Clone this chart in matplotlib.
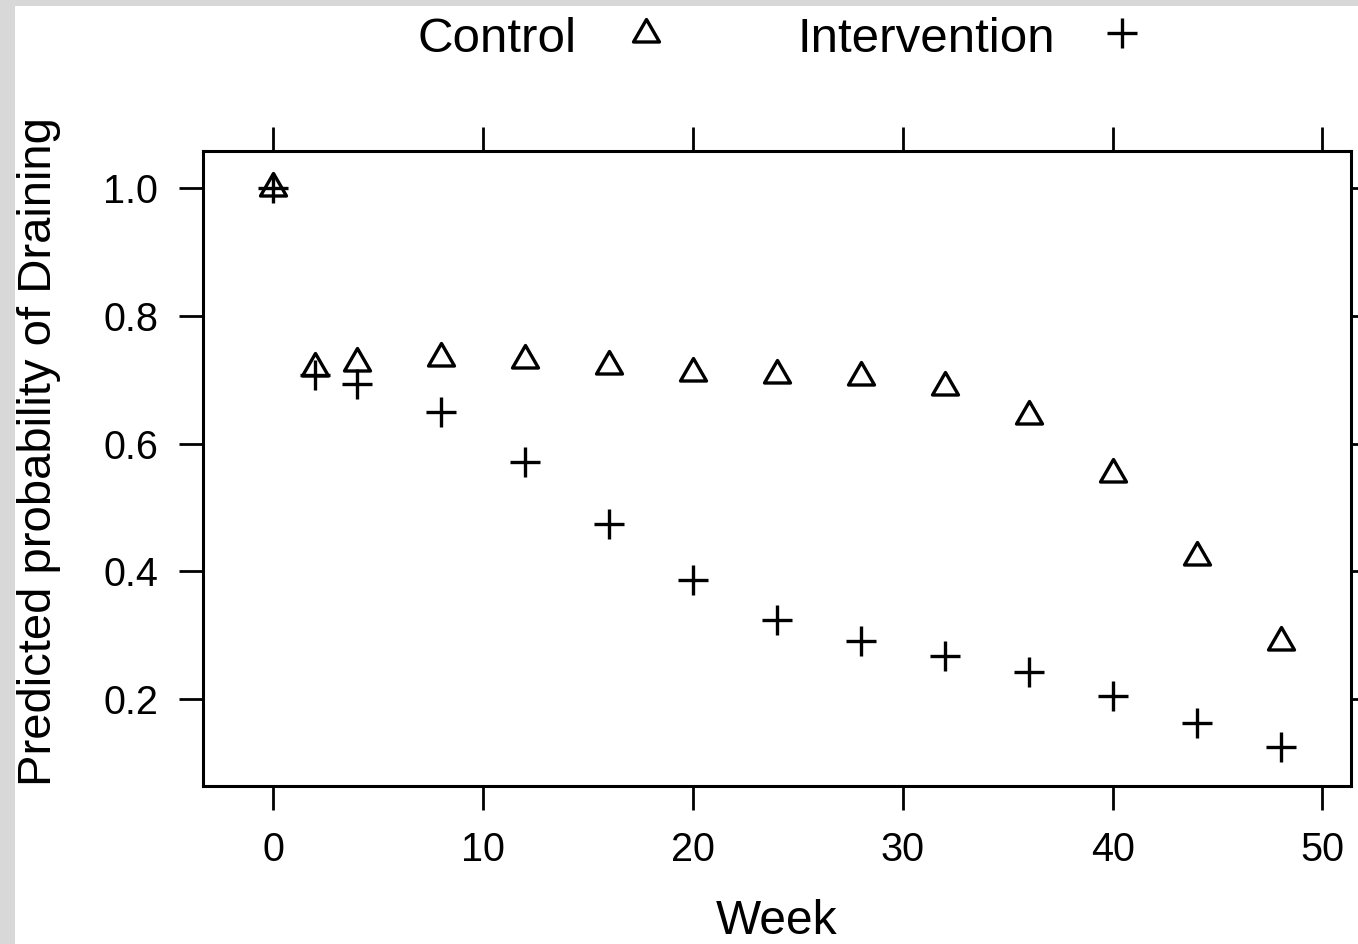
import matplotlib
matplotlib.use("Agg")
import matplotlib.pyplot as plt
from matplotlib.path import Path
from matplotlib.lines import Line2D
from matplotlib.patches import Rectangle

# data
weeks = [0, 2, 4, 8, 12, 16, 20, 24, 28, 32, 36, 40, 44, 48]
control = [1.0, 0.718, 0.727, 0.734, 0.731, 0.721, 0.710, 0.707, 0.704, 0.689, 0.644, 0.552, 0.423, 0.290]
intervention = [1.0, 0.708, 0.694, 0.649, 0.572, 0.475, 0.386, 0.324, 0.291, 0.268, 0.242, 0.205, 0.163, 0.125]
group_names = ["Control", "Intervention"]
x_ticks = [0, 10, 20, 30, 40, 50]
y_ticks = [0.2, 0.4, 0.6, 0.8, 1.0]
y_tick_labels = ["0.2", "0.4", "0.6", "0.8", "1.0"]

plt.rcParams['font.family'] = ['Liberation Sans', 'DejaVu Sans']

W, H = 1358, 944
fig = plt.figure(figsize=(W / 100, H / 100), dpi=100)
ax = fig.add_axes([203 / W, 1 - 786 / H, (1351 - 203) / W, (786 - 150.7) / H])

# R-style open triangle, centred on its centroid
tri = Path([(0, 1), (-0.866, -0.5), (0.866, -0.5), (0, 1)], closed=True)
ax.plot(weeks, control, ls='none', marker=tri, ms=21.6, mfc='none',
        mec='black', mew=2.4, clip_on=False)
ax.plot(weeks, intervention, ls='none', marker='+', ms=22,
        mec='black', mew=2.4, clip_on=False)

ax.set_xlim(-3.36, 51.36)
ax.set_ylim(0.0639, 1.0589)
ax.set_xticks(x_ticks)
ax.set_yticks(y_ticks)
ax.set_yticklabels(y_tick_labels)
ax.tick_params(direction='out', length=17.3, width=2.0, top=True, right=True,
               labeltop=False, labelright=False, labelsize=28.5, pad=15)
for sp in ax.spines.values():
    sp.set_linewidth(2.2)

# axis labels
fig.text(777 / W, 0.5 / H, "Week", ha='center', va='bottom', fontsize=34.5)
fig.text(39.5 / W, 1 - 452 / H, "Predicted probability of Draining",
         rotation=90, ha='center', va='center', fontsize=34)

# key on top, text then symbol
fig.text(418 / W, 1 - 52 / H, group_names[0], ha='left', va='baseline', fontsize=35.5)
fig.add_artist(Line2D([646 / W], [1 - 34 / H], transform=fig.transFigure,
                      marker=tri, ms=21.6, mfc='none', mec='black', mew=2.4, ls='none'))
fig.text(797 / W, 1 - 52 / H, group_names[1], ha='left', va='baseline', fontsize=35.5)
fig.add_artist(Line2D([1122 / W], [1 - 33 / H], transform=fig.transFigure,
                      marker='+', ms=22, mec='black', mew=2.4, ls='none'))

# grey frame strips from the screenshot
fig.add_artist(Rectangle((0, 0), 15 / W, 1, transform=fig.transFigure,
                         color='#d8d8d8', lw=0, zorder=5))
fig.add_artist(Rectangle((0, 1 - 6 / H), 1, 6 / H, transform=fig.transFigure,
                         color='#d8d8d8', lw=0, zorder=5))

fig.savefig("out.png", dpi=100)
